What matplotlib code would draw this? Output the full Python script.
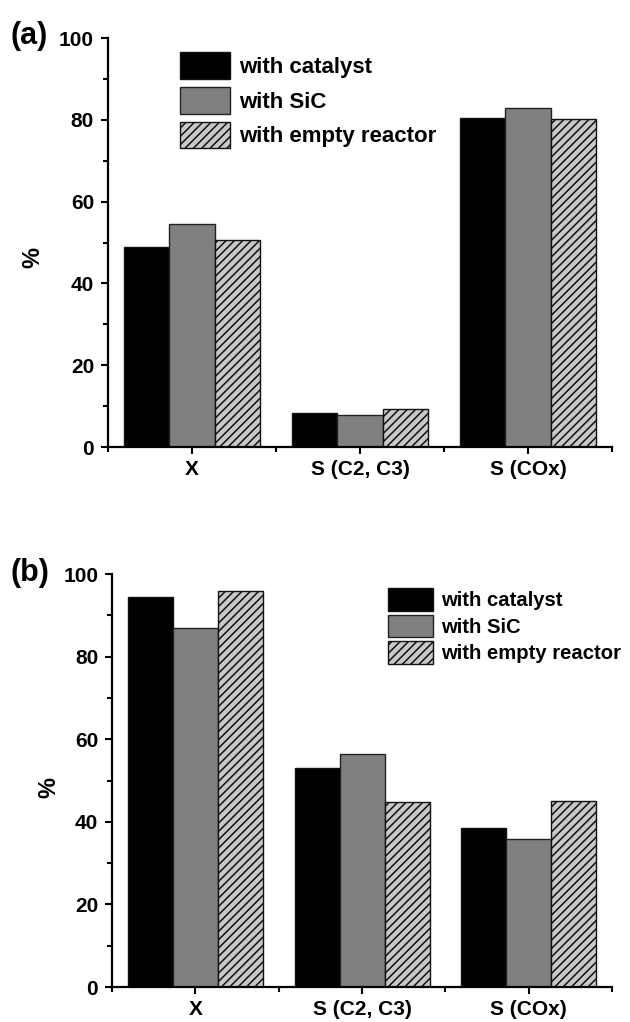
import numpy as np
import matplotlib
matplotlib.use("Agg")
import matplotlib.pyplot as plt
from matplotlib.ticker import MultipleLocator, FixedLocator

# Data
categories = ["X", "S (C2, C3)", "S (COx)"]
series_names = ["with catalyst", "with SiC", "with empty reactor"]

# values grouped by series (a)
a_catalyst = [48.9, 8.3, 80.4]
a_sic = [54.5, 7.8, 82.9]
a_empty = [50.6, 9.3, 80.2]

# values grouped by series (b)
b_catalyst = [94.4, 53.0, 38.5]
b_sic = [86.9, 56.4, 35.8]
b_empty = [95.9, 44.8, 45.0]

y_ticks = [0, 20, 40, 60, 80, 100]

plt.rcParams['font.family'] = ['Liberation Sans', 'DejaVu Sans']
plt.rcParams['font.weight'] = 'bold'
plt.rcParams['hatch.linewidth'] = 1.1

fig = plt.figure(figsize=(6.3, 10.22), dpi=100)
ax_a = fig.add_axes([0.1714, 0.5626, 0.8, 0.4002])
ax_b = fig.add_axes([0.1778, 0.0342, 0.7937, 0.4041])

styles = [
    dict(color="black", edgecolor="#111111"),
    dict(color="#808080", edgecolor="#222222"),
    dict(color="#c8c8c8", edgecolor="#111111", hatch="////"),
]


def draw_panel(ax, series, legend_pos, legend_size, handle_len, handle_h, spacing):
    x = np.arange(1, len(categories) + 1)
    width = 0.27
    offsets = [-width, 0, width]
    for vals, name, off, st in zip(series, series_names, offsets, styles):
        ax.bar(x + off, vals, width, label=name, linewidth=1.0, **st)

    ax.set_xlim(0.5, 3.5)
    ax.set_ylim(0, 100)
    ax.set_xticks(x)
    ax.set_xticklabels(categories, fontsize=15, fontweight='bold')
    ax.xaxis.set_minor_locator(FixedLocator([0.5, 1.5, 2.5, 3.5]))
    ax.set_yticks(y_ticks)
    ax.yaxis.set_minor_locator(MultipleLocator(10))
    for lab in ax.get_yticklabels():
        lab.set_fontsize(15)
        lab.set_fontweight('bold')

    for side in ["top", "right"]:
        ax.spines[side].set_visible(False)
    for side in ["left", "bottom"]:
        ax.spines[side].set_linewidth(1.6)
    ax.tick_params(which='major', length=5, width=1.5, direction='out', pad=4)
    ax.tick_params(which='minor', length=3.5, width=1.5, direction='out')
    ax.tick_params(axis='y', which='major', pad=5)

    ax.legend(loc="upper left", bbox_to_anchor=legend_pos, frameon=False,
              fontsize=legend_size, handlelength=handle_len, handleheight=handle_h,
              labelspacing=spacing, handletextpad=0.4, borderpad=0,
              borderaxespad=0)


draw_panel(ax_a, [a_catalyst, a_sic, a_empty], (0.143, 0.966), 16, 2.27, 1.48, 0.36)
draw_panel(ax_b, [b_catalyst, b_sic, b_empty], (0.552, 0.966), 14.6, 2.2, 1.33, 0.2)

# y labels
fig.text(33 / 630, 1 - 257 / 1022, "%", fontsize=17, fontweight='bold',
         rotation=90, ha='center', va='center')
fig.text(49 / 630, 1 - 788 / 1022, "%", fontsize=17, fontweight='bold',
         rotation=90, ha='center', va='center')

# Panel letters
fig.text(0.046, 1 - 36 / 1022, "(a)", fontsize=22, fontweight='bold', ha='center', va='center')
fig.text(0.047, 1 - 573 / 1022, "(b)", fontsize=22, fontweight='bold', ha='center', va='center')

plt.savefig("out.png", dpi=100)
